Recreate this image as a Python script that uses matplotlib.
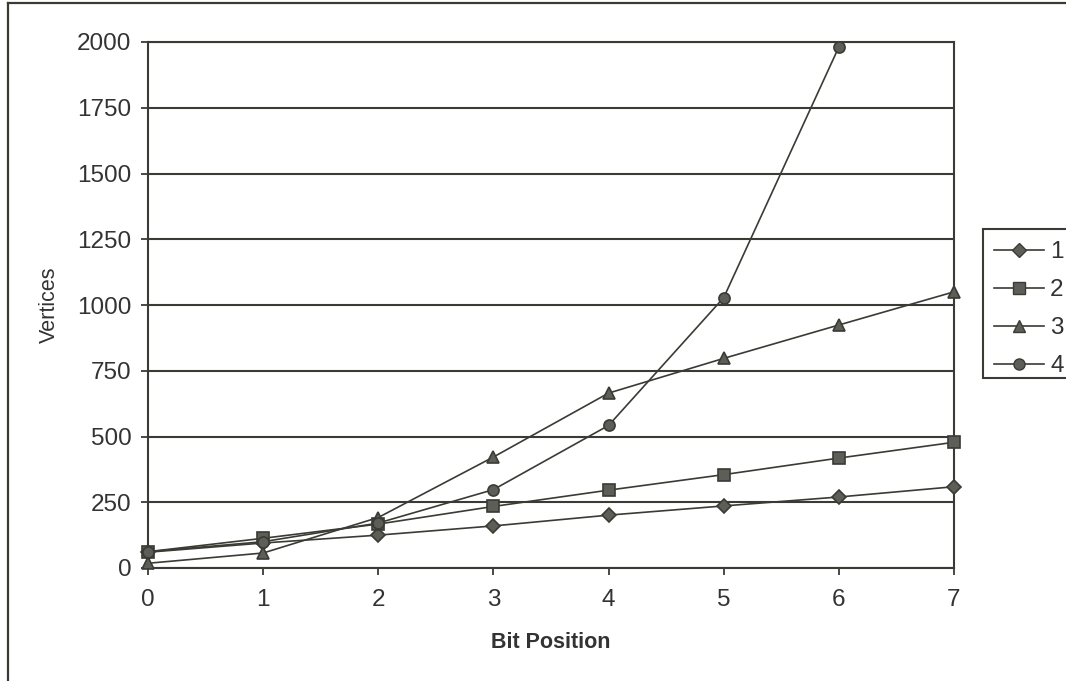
import matplotlib
matplotlib.use("Agg")
import matplotlib.pyplot as plt
from matplotlib.lines import Line2D
from matplotlib.patches import Rectangle

# Values
bit_position = [0, 1, 2, 3, 4, 5, 6, 7]
series_1 = [60, 95, 125, 160, 201, 236, 270, 309]
series_2 = [62, 113, 167, 234, 296, 355, 418, 478]
series_3 = [18, 57, 192, 422, 665, 797, 924, 1050]
series_4 = [62, 100, 171, 298, 542, 1028, 1981]
series_labels = ["1", "2", "3", "4"]
markers = ["D", "s", "^", "o"]

plt.rcParams["font.family"] = ["Liberation Sans", "DejaVu Sans"]

ink = "#3b3b35"
fill = "#5e5e58"
W, H = 1066, 681

fig = plt.figure(figsize=(10.66, 6.81), dpi=100)
ax = fig.add_axes([148 / W, 1 - 568 / H, (954 - 148) / W, (568 - 42) / H])

all_series = [series_1, series_2, series_3, series_4]
for values, label, marker in zip(all_series, series_labels, markers):
    xs = bit_position[:len(values)]
    size = 7.5 if marker == "D" else 8
    ax.plot(xs, values, color=ink, linewidth=1.2, marker=marker, markersize=size,
            markerfacecolor=fill, markeredgecolor=ink, markeredgewidth=1.2,
            label=label, zorder=3, clip_on=False)

ax.set_xlim(0, 7)
ax.set_ylim(0, 2000)
ax.set_xticks(range(0, 8))
ax.set_yticks(range(0, 2001, 250))
ax.yaxis.grid(True, color=ink, linewidth=1.5)
ax.set_axisbelow(True)
for spine in ax.spines.values():
    spine.set_color(ink)
    spine.set_linewidth(1.5)
ax.tick_params(direction="out", length=5, width=1.3, color=ink,
               labelsize=17.5, labelcolor="#333333")
ax.tick_params(axis="x", pad=10)
ax.tick_params(axis="y", pad=7)

ax.set_xlabel("Bit Position", fontsize=15.5, fontweight="bold", color="#333333", labelpad=15)
ax.set_ylabel("Vertices", fontsize=15.5, color="#333333", labelpad=12)

# legend box, cut off by the right edge of the picture
fig.add_artist(Rectangle((983 / W, 1 - 378 / H), 120 / W, (378 - 229) / H,
                         transform=fig.transFigure, facecolor="white",
                         edgecolor=ink, linewidth=1.5))
legend_handles = [
    Line2D([0], [0], color=ink, linewidth=1.2, marker=m, markersize=(7.5 if m == "D" else 8),
           markerfacecolor=fill, markeredgecolor=ink)
    for m in markers
]
fig.legend(legend_handles, series_labels, loc="upper left",
           bbox_to_anchor=(987 / W, 1 - 234 / H), fontsize=17.5,
           frameon=False, borderaxespad=0,
           handlelength=2.05, handletextpad=0.25, labelspacing=0.66,
           borderpad=0.3, labelcolor="#333333")

# outer chart frame (cropped at right and bottom)
fig.add_artist(Line2D([8 / W, 8 / W], [0, 1 - 3 / H], transform=fig.transFigure,
                      color=ink, linewidth=1.6))
fig.add_artist(Line2D([8 / W, 1], [1 - 3 / H, 1 - 3 / H], transform=fig.transFigure,
                      color=ink, linewidth=1.6))

fig.savefig("out.png", dpi=100)
